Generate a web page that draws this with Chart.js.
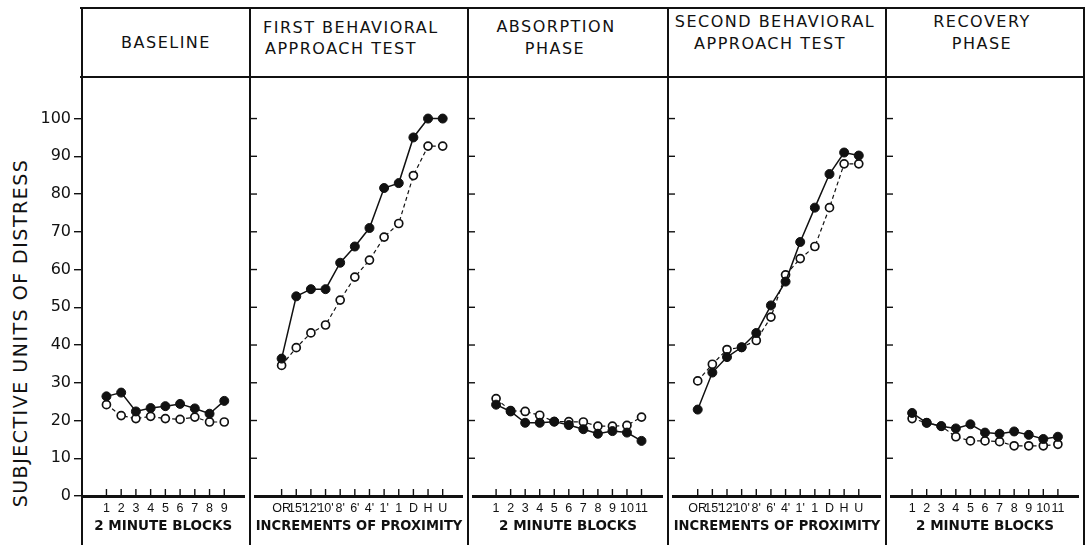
<!DOCTYPE html>
<html>
<head>
<meta charset="utf-8">
<script src="https://cdn.jsdelivr.net/npm/chart.js@4.4.1/dist/chart.umd.min.js"></script>
<style>
  body { margin: 0; background: #fff; }
  #fig { position: relative; width: 1086px; height: 545px; overflow: hidden; background: #fff;
         font-family: "DejaVu Sans", sans-serif; color: #111; }
  #fig canvas { position: absolute; }
  .hline, .vline { position: absolute; background: #111; }
  .txt { position: absolute; white-space: nowrap; font-size: 16px; letter-spacing: 1.5px; line-height: 20px; }
  #ytitle { position: absolute; left: 20px; top: 333px; white-space: nowrap; font-size: 19px;
            letter-spacing: 1.5px; transform: translate(-50%, -50%) rotate(-90deg); }
</style>
</head>
<body>
<div id="fig">
  <div id="ytitle">SUBJECTIVE UNITS OF DISTRESS</div>
</div>
<script>
// categories
const baselineLabels = ['1', '2', '3', '4', '5', '6', '7', '8', '9'];
const proximityLabels = ['OR', "15'", "12'", "10'", "8'", "6'", "4'", "1'", '1', 'D', 'H', 'U'];
const blockLabels11 = ['1', '2', '3', '4', '5', '6', '7', '8', '9', '10', '11'];
const yTicks = [0, 10, 20, 30, 40, 50, 60, 70, 80, 90, 100];

// series (filled = solid line, open = dashed line)
const baselineFilled = [26.4, 27.4, 22.4, 23.3, 23.8, 24.4, 23.2, 21.8, 25.2];
const baselineOpen = [24.2, 21.3, 20.5, 21.1, 20.5, 20.3, 20.9, 19.6, 19.6];
const firstBatFilled = [36.4, 52.9, 54.8, 54.8, 61.8, 66.1, 71.0, 81.6, 82.9, 95.0, 100, 100];
const firstBatOpen = [34.6, 39.3, 43.2, 45.3, 51.9, 58.0, 62.5, 68.6, 72.2, 84.9, 92.7, 92.7];
const absorptionFilled = [24.2, 22.4, 19.4, 19.4, 19.7, 18.8, 17.7, 16.5, 17.2, 16.8, 14.6];
const absorptionOpen = [25.8, 22.6, 22.4, 21.4, 19.7, 19.7, 19.6, 18.5, 18.5, 18.7, 20.9];
const secondBatFilled = [22.9, 32.7, 36.8, 39.4, 43.2, 50.5, 56.8, 67.3, 76.4, 85.3, 91.0, 90.2];
const secondBatOpen = [30.5, 34.9, 38.8, 39.4, 41.2, 47.4, 58.6, 62.9, 66.1, 76.4, 88.0, 88.0];
const recoveryFilled = [22.0, 19.4, 18.5, 17.9, 19.0, 16.8, 16.5, 17.1, 16.2, 15.1, 15.7];
const recoveryOpen = [20.5, 19.4, 18.5, 15.7, 14.6, 14.6, 14.4, 13.3, 13.3, 13.3, 13.7];

// layout
const edges = [82, 250, 468, 668, 886, 1084];
const panels = [
  { labels: baselineLabels, filled: baselineFilled, open: baselineOpen, xMin: -0.66, xMax: 10.36, title: '2 MINUTE BLOCKS' },
  { labels: proximityLabels, filled: firstBatFilled, open: firstBatOpen, xMin: -0.77, xMax: 13.34, title: 'INCREMENTS OF PROXIMITY' },
  { labels: blockLabels11, filled: absorptionFilled, open: absorptionOpen, xMin: -0.54, xMax: 12.43, title: '2 MINUTE BLOCKS' },
  { labels: proximityLabels, filled: secondBatFilled, open: secondBatOpen, xMin: -0.64, xMax: 13.47, title: 'INCREMENTS OF PROXIMITY' },
  { labels: blockLabels11, filled: recoveryFilled, open: recoveryOpen, xMin: -0.40, xMax: 12.40, title: '2 MINUTE BLOCKS' }
];
const headerLines = [
  { t: 'BASELINE', x: 166, y: 43 },
  { t: 'FIRST BEHAVIORAL', x: 263, y: 28, left: true },
  { t: 'APPROACH TEST', x: 265, y: 49, left: true },
  { t: 'ABSORPTION', x: 556, y: 27 },
  { t: 'PHASE', x: 555, y: 49 },
  { t: 'SECOND BEHAVIORAL', x: 775, y: 22 },
  { t: 'APPROACH TEST', x: 770, y: 44 },
  { t: 'RECOVERY', x: 982, y: 22 },
  { t: 'PHASE', x: 982, y: 44 }
];

const fig = document.getElementById('fig');

function addBox(cls, l, t, w, h) {
  const d = document.createElement('div');
  d.className = cls;
  d.style.left = l + 'px'; d.style.top = t + 'px';
  d.style.width = w + 'px'; d.style.height = h + 'px';
  fig.appendChild(d);
}

// frame
addBox('hline', 80, 7, 1005, 2);
addBox('hline', 80, 76, 1005, 2);
addBox('vline', 80.5, 7, 2, 538);
edges.slice(1).forEach(x => addBox('vline', x - 0.75, 7, 1.5, 538));

headerLines.forEach(h => {
  const d = document.createElement('div');
  d.className = 'txt';
  d.textContent = h.t;
  d.style.left = h.x + 'px';
  d.style.top = h.y + 'px';
  d.style.transform = h.left ? 'translate(0,-50%)' : 'translate(-50%,-50%)';
  fig.appendChild(d);
});

// upward ticks on the x axis and inward ticks on the panel dividers
const panelTicks = {
  id: 'panelTicks',
  afterDraw(chart, args, opts) {
    const { ctx, chartArea: a, scales: { x, y } } = chart;
    ctx.save();
    ctx.strokeStyle = '#111';
    ctx.lineWidth = 1.4;
    x.ticks.forEach(t => {
      const px = x.getPixelForValue(t.value);
      ctx.beginPath();
      ctx.moveTo(px, a.bottom);
      ctx.lineTo(px, a.bottom - 7);
      ctx.stroke();
    });
    if (opts.divider) {
      yTicks.slice(1).forEach(v => {
        const py = y.getPixelForValue(v);
        ctx.beginPath();
        ctx.moveTo(0, py);
        ctx.lineTo(7, py);
        ctx.stroke();
      });
    }
    ctx.restore();
  }
};

panels.forEach((p, i) => {
  const left = i === 0 ? 0 : edges[i];
  const width = edges[i + 1] - left;
  const cv = document.createElement('canvas');
  cv.width = width;
  cv.height = 468;
  cv.style.left = left + 'px';
  cv.style.top = '77px';
  fig.appendChild(cv);

  new Chart(cv, {
    type: 'line',
    data: {
      datasets: [
        {
          data: p.filled.map((v, k) => ({ x: k + 1, y: v })),
          borderColor: '#111', borderWidth: 1.5,
          pointRadius: 4.5, pointBackgroundColor: '#111', pointBorderColor: '#111', pointBorderWidth: 1
        },
        {
          data: p.open.map((v, k) => ({ x: k + 1, y: v })),
          borderColor: '#111', borderWidth: 1.2, borderDash: [4, 3],
          pointRadius: 4, pointBackgroundColor: '#fff', pointBorderColor: '#111', pointBorderWidth: 1.7
        }
      ]
    },
    plugins: [panelTicks],
    options: {
      responsive: false,
      animation: false,
      events: [],
      layout: { padding: 0 },
      plugins: { legend: { display: false }, tooltip: { enabled: false }, panelTicks: { divider: i > 0 } },
      scales: {
        x: {
          type: 'linear',
          min: p.xMin,
          max: p.xMax,
          afterBuildTicks: s => { s.ticks = p.labels.map((_, k) => ({ value: k + 1 })); },
          afterFit: s => { s.height = 49; s.paddingLeft = 0; s.paddingRight = 0; },
          grid: { display: false, drawTicks: false },
          border: { display: true, width: 3, color: '#111' },
          ticks: {
            autoSkip: false, maxRotation: 0, padding: 5, color: '#111',
            font: { family: 'Liberation Sans', size: 12.5 },
            callback: v => p.labels[v - 1]
          },
          title: {
            display: true, text: p.title, color: '#111',
            font: { family: 'DejaVu Sans', size: 13.5, weight: 'bold' },
            padding: { top: 0, bottom: 10 }
          }
        },
        y: {
          display: i === 0,
          min: 0,
          max: 109.5,
          afterBuildTicks: s => { s.ticks = yTicks.map(v => ({ value: v })); },
          afterFit: s => { s.width = i === 0 ? 82 : 0; s.paddingTop = 0; s.paddingBottom = 0; },
          grid: { drawOnChartArea: false, drawTicks: true, tickLength: 8, color: '#111', lineWidth: 1.4 },
          border: { display: false },
          ticks: { padding: 3, color: '#111', font: { family: 'DejaVu Sans', size: 16 } }
        }
      }
    }
  });
});
</script>
</body>
</html>
